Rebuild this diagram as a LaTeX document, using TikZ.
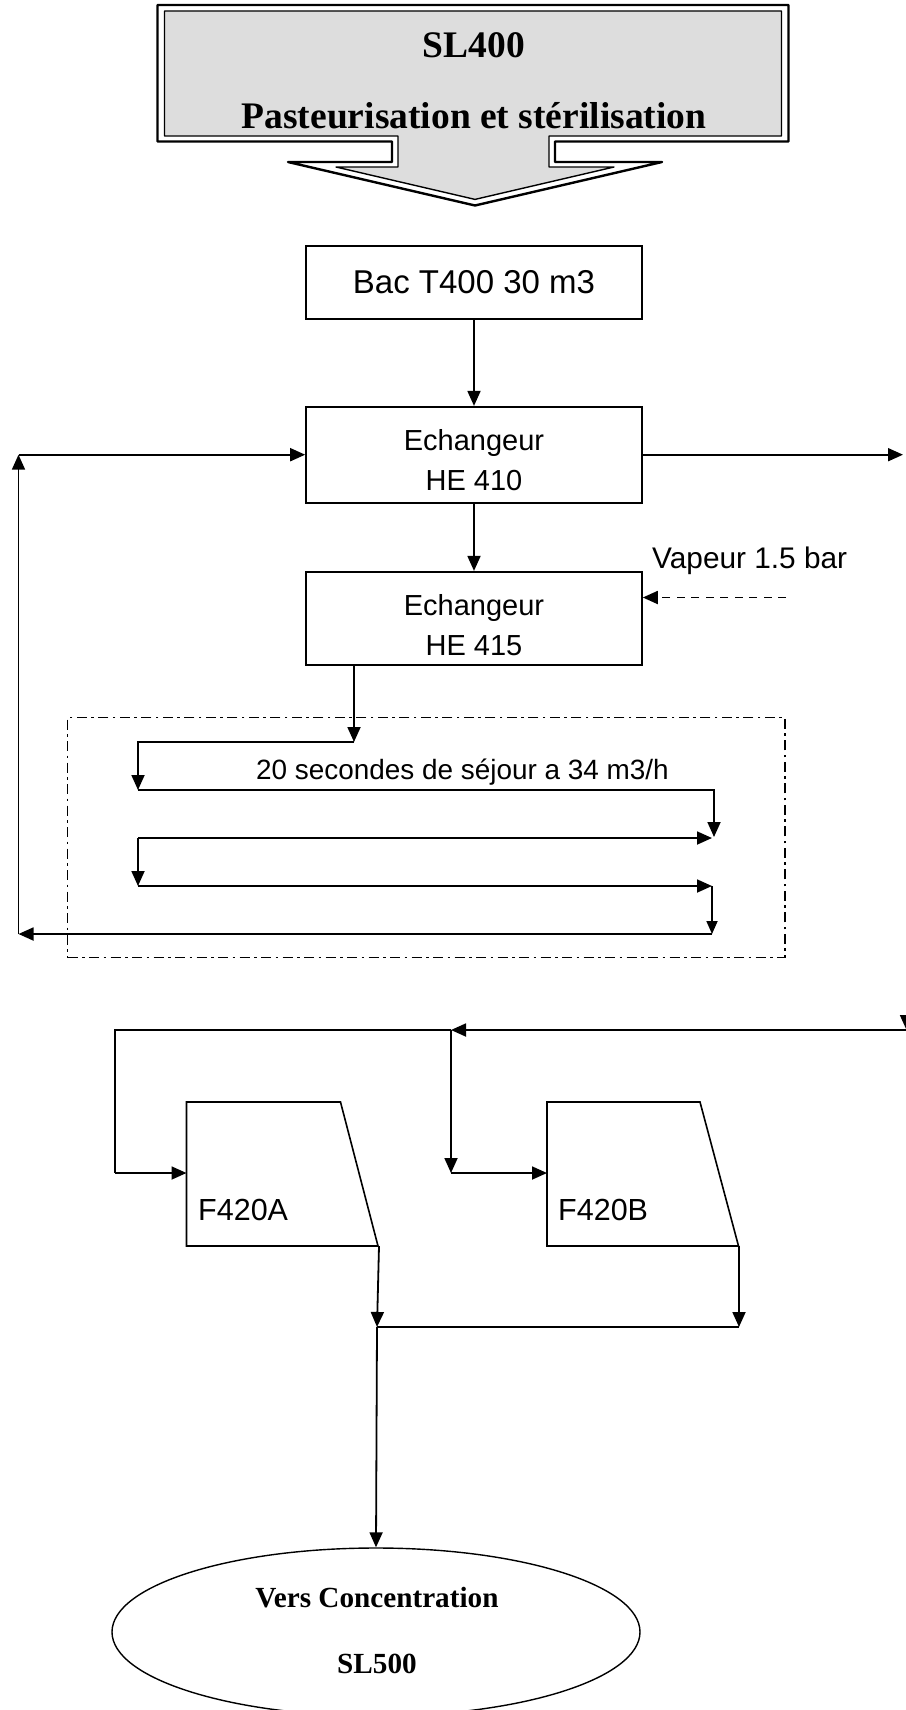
\documentclass[tikz,border=0pt]{standalone}
\usepackage{fontspec}
\setmainfont{Liberation Serif}
\newfontfamily\labelsans{Liberation Sans}
\usetikzlibrary{arrows.meta,shapes.geometric}
\definecolor{hdrgray}{RGB}{221,221,221}

\begin{document}
\begin{tikzpicture}[x=1pt,y=-1pt,
  box/.style={draw, line width=1.6pt, rectangle, inner sep=0pt},
  flow/.style={line width=1.8pt, -{Triangle[length=15pt,width=13pt]}},
  plain/.style={line width=1.8pt},
  lbl/.style={inner sep=0pt, anchor=base, font=\labelsans\fontsize{29}{34}\selectfont},
  biglbl/.style={lbl, font=\labelsans\fontsize{33}{38}\selectfont},
  tanklbl/.style={lbl, anchor=base west, font=\labelsans\fontsize{30.5}{36}\selectfont},
  title/.style={inner sep=0pt, anchor=base, font=\bfseries\fontsize{37.5}{44}\selectfont},
  subtitle/.style={inner sep=0pt, anchor=base, font=\bfseries\fontsize{29.2}{34}\selectfont},
  holdline/.style={draw, line width=1.6pt, dash pattern=on 10pt off 4.5pt on 2.5pt off 4.5pt},
  tank/.style={draw, line width=1.6pt, line join=miter}
]
\useasboundingbox (0,0) rectangle (905,1710);

% ---- header: down-arrow callout with a double border ----
\fill[hdrgray] (164.5,11) -- (781.5,11) -- (781.5,136) -- (549,136) -- (549,167)
  -- (614,167) -- (475,199.4) -- (336,167) -- (398,167) -- (398,136) -- (164.5,136) -- cycle;
\draw[line width=2.4pt, line join=round] (157.5,5) -- (788.5,5) -- (788.5,141.5) -- (555,141.5)
  -- (555,162) -- (662,162) -- (475,205.5) -- (288,162) -- (392,162) -- (392,141.5)
  -- (157.5,141.5) -- cycle;
\draw[line width=1.4pt, line join=round] (164.5,11) -- (781.5,11) -- (781.5,136) -- (549,136)
  -- (549,167) -- (614,167) -- (475,199.4) -- (336,167) -- (398,167) -- (398,136)
  -- (164.5,136) -- cycle;
\node[title] (hdr1) at (474,58) {SL400};
\node[title] (hdr2) at (474,128) {Pasteurisation et stérilisation};

% ---- tank and heat exchangers ----
\node[box, minimum width=336pt, minimum height=73pt] (bac) at (474,282.5) {};
\node[biglbl] (bac-t) at (474,293) {Bac T400 30 m3};

\node[box, minimum width=336pt, minimum height=96pt] (he410) at (474,454.7) {};
\node[lbl] (he410-a) at (474,450) {Echangeur};
\node[lbl] (he410-b) at (474,490) {HE 410};

\node[box, minimum width=336pt, minimum height=93.4pt] (he415) at (474,618.4) {};
\node[lbl] (he415-a) at (474,615) {Echangeur};
\node[lbl] (he415-b) at (474,655) {HE 415};

\draw[flow] (bac.south) -- (he410.north);
\draw[flow] (he410.south) -- (he415.north);

\coordinate (out-r) at (903,454.7);
\draw[flow] (he410.east) -- (out-r);

% steam supply
\node[lbl, anchor=base west, font=\labelsans\fontsize{29.8}{35}\selectfont] (vap) at (652,568) {Vapeur 1.5 bar};
\coordinate (vap-src) at (786,597.5);
\draw[flow, line width=1.8pt, dash pattern=on 8pt off 6.5pt] (vap-src) -- (he415.east |- vap-src);

% ---- holding tube ----
\node[holdline, minimum width=717.4pt, minimum height=240pt, inner sep=0pt] (hold) at (426.3,837.5) {};
\node[lbl, anchor=base west, font=\labelsans\fontsize{27.9}{33}\selectfont] (hold-t) at (256,779) {20 secondes de séjour a 34 m3/h};

\coordinate (h-out) at (354,665);
\coordinate (s1) at (354,742);
\coordinate (s2) at (138,742);
\coordinate (s3) at (138,790);
\coordinate (s4) at (714,790);
\coordinate (s5) at (714,837);
\coordinate (s6) at (138,838);
\coordinate (s7) at (712,838);
\coordinate (s8) at (138,886);
\coordinate (s9) at (712,886);
\coordinate (s10) at (712,934);
\coordinate (s11) at (18.5,934);
\coordinate (s12) at (18.5,454.7);

\draw[flow] (h-out) -- (s1);
\draw[flow] (s1) -- (s2) -- (s3);
\draw[flow] (s3) -- (s4) -- (s5);
\draw[flow] (s6) -- (s7);
\draw[flow] (s6) -- (s8);
\draw[flow] (s8) -- (s9);
\draw[flow, -{Triangle[length=13pt,width=11pt]}] (s9) -- (s10);
\draw[flow] (s10) -- (s11);
\draw[flow] (s11) -- (s12);
\draw[flow] (s12) -- (he410.west);

% ---- filters ----
\draw[tank] (186.5,1102) -- (340.5,1102) -- (378,1246) -- (186.5,1246) -- cycle;
\node[tanklbl] (fa-t) at (198,1220) {F420A};
\coordinate (fa-in) at (186.5,1173);
\coordinate (fa-out) at (379,1246);

\draw[tank] (547,1102) -- (700,1102) -- (738.5,1246) -- (547,1246) -- cycle;
\node[tanklbl] (fb-t) at (558,1220) {F420B};
\coordinate (fb-in) at (547,1173);
\coordinate (fb-out) at (739,1246);

\coordinate (feed-top) at (906.5,995);
\coordinate (feed) at (906.5,1030);
\coordinate (j1) at (451,1030);
\coordinate (j0) at (115,1030);
\coordinate (j0b) at (115,1173);
\coordinate (j2) at (451,1173);

\draw[flow] (feed-top) -- (feed);
\draw[flow] (feed) -- (j1);
\draw[plain] (j1) -- (j0) -- (j0b);
\draw[flow] (j0b) -- (fa-in);
\draw[flow] (j1) -- (j2);
\draw[flow] (j2) -- (fb-in);

% ---- collector and destination ----
\node[draw, ellipse, line width=1.4pt, minimum width=528pt, minimum height=168pt, inner sep=0pt] (dest) at (376,1632) {};
\node[subtitle] (dest-a) at (377,1607) {Vers Concentration};
\node[subtitle] (dest-b) at (377,1673) {SL500};

\coordinate (m1) at (377,1327);
\coordinate (m2) at (739,1327);
\draw[flow] (fa-out) -- (m1);
\draw[flow] (fb-out) -- (m2);
\draw[plain] (m1) -- (m2);
\draw[flow] (m1) -- (dest.north);
\end{tikzpicture}
\end{document}
